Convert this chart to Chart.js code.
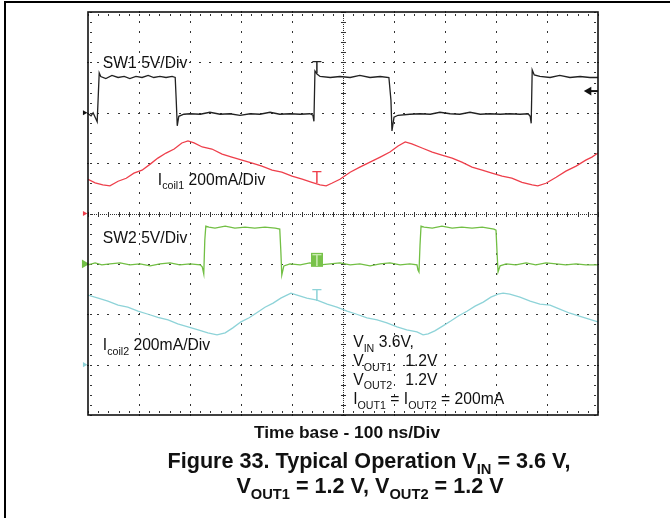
<!DOCTYPE html>
<html>
<head>
<meta charset="utf-8">
<script src="https://cdn.jsdelivr.net/npm/chart.js@4.4.1/dist/chart.umd.min.js"></script>
<style>
  html, body { margin:0; padding:0; background:#fff; }
  #wrap { position:relative; width:670px; height:518px; overflow:hidden; }
  #frame { position:absolute; left:4px; top:1px; width:680px; height:530px; border-top:2px solid #000; border-left:2px solid #000; pointer-events:none; }
  canvas { position:absolute; left:0; top:0; }
</style>
</head>
<body>
<div id="wrap">
  <canvas id="c" width="670" height="518"></canvas>
  <div id="frame"></div>
</div>
<script>
// ---- Data (time in ns, amplitude in screen divisions) ----
const sw1T = [0,6,10,14,18,22,25,35,47,59,71,82,94,106,118,129,141,153,165,171,173,175,178,188,200,220,239,259,278,298,318,337,357,376,396,416,435,441,443,445,449,455,475,494,514,533,553,573,590,594,596,600,608,631,651,671,690,710,729,749,769,788,808,827,847,863,867,869,871,875,886,906,925,945,965,984,1000];
const sw1V = [1.98,1.94,2.0,1.91,1.82,2.79,2.72,2.68,2.74,2.70,2.72,2.68,2.72,2.70,2.74,2.70,2.72,2.70,2.72,2.70,2.25,1.74,1.93,1.97,1.98,1.97,2.01,1.97,1.98,1.95,1.98,1.97,2.01,1.97,1.98,1.97,1.98,1.95,1.83,2.83,2.77,2.72,2.70,2.72,2.70,2.74,2.70,2.72,2.70,2.25,1.64,1.91,1.95,1.97,1.98,1.97,2.01,1.98,1.97,2.01,1.97,1.98,1.97,1.98,1.97,1.98,1.93,1.79,2.85,2.75,2.72,2.70,2.74,2.70,2.72,2.70,2.70];

const coil1T = [0,14,29,43,59,75,90,106,122,137,153,169,184,196,208,224,243,263,282,302,322,341,361,380,400,420,439,455,467,478,494,514,533,553,573,592,608,622,635,655,675,694,714,733,753,773,792,812,831,851,871,882,898,918,937,957,976,988,1000];
const coil1V = [0.68,0.61,0.57,0.55,0.64,0.70,0.80,0.86,0.98,1.10,1.20,1.28,1.40,1.44,1.40,1.32,1.28,1.18,1.12,1.06,1.00,0.94,0.86,0.82,0.74,0.68,0.62,0.57,0.55,0.60,0.68,0.82,0.92,1.02,1.12,1.22,1.34,1.42,1.38,1.30,1.22,1.16,1.10,1.02,0.92,0.86,0.80,0.74,0.70,0.62,0.57,0.55,0.60,0.72,0.84,0.94,1.06,1.12,1.20];

const sw2T = [0,14,27,43,63,82,102,122,141,161,180,200,220,224,227,229,231,237,249,269,288,308,327,347,367,376,378,380,384,396,416,435,455,475,494,514,533,553,573,592,612,631,645,647,649,651,653,659,675,694,714,733,753,773,796,800,802,804,808,820,839,859,878,898,918,937,957,976,1000];
const sw2V = [-1.02,-0.98,-1.02,-1.00,-0.98,-1.02,-1.00,-1.04,-1.00,-0.98,-1.02,-1.00,-1.02,-1.06,-1.20,-0.53,-0.25,-0.27,-0.29,-0.25,-0.29,-0.27,-0.29,-0.27,-0.29,-0.31,-0.72,-1.22,-1.04,-1.00,-1.02,-0.98,-1.02,-1.00,-0.98,-1.02,-1.00,-1.04,-1.00,-0.98,-1.02,-1.00,-1.02,-1.12,-1.16,-0.63,-0.25,-0.27,-0.29,-0.25,-0.29,-0.27,-0.29,-0.27,-0.31,-0.33,-0.76,-1.16,-1.04,-1.00,-1.02,-0.98,-1.02,-0.98,-1.00,-1.02,-1.00,-1.02,-1.02];

const coil2T = [0,20,39,59,78,98,118,137,157,176,196,216,235,253,269,284,300,316,331,347,363,378,390,398,410,429,449,469,488,508,527,547,567,586,606,625,645,657,667,680,696,712,727,743,759,775,790,804,814,827,847,867,886,906,925,945,965,984,1000];
const coil2V = [-1.62,-1.68,-1.74,-1.82,-1.86,-1.94,-2.00,-2.06,-2.11,-2.19,-2.25,-2.31,-2.37,-2.41,-2.37,-2.27,-2.15,-2.07,-1.97,-1.86,-1.78,-1.68,-1.62,-1.58,-1.62,-1.68,-1.72,-1.80,-1.86,-1.94,-2.00,-2.07,-2.11,-2.17,-2.25,-2.31,-2.35,-2.41,-2.39,-2.33,-2.23,-2.13,-2.03,-1.94,-1.84,-1.76,-1.66,-1.60,-1.58,-1.60,-1.66,-1.74,-1.80,-1.82,-1.90,-1.98,-2.04,-2.10,-2.15];

// channel reference levels (divisions) and trigger level
const refLevels = [2.0, 0.0, -1.0, -3.0];
const triggerLevel = [2.43];

// text
const chLabels = [
  [["SW1 5V/Div",0]],
  [["I",0],["coil1",1],[" 200mA/Div",0]],
  [["SW2 5V/Div",0]],
  [["I",0],["coil2",1],[" 200mA/Div",0]]
];
const noteLines = [
  [["V",0],["IN",1],[" 3.6V,",0]],
  [["V",0],["OUT1",1],["   1.2V",0]],
  [["V",0],["OUT2",1],["   1.2V",0]],
  [["I",0],["OUT1",1],[" = I",0],["OUT2",1],[" = 200mA",0]]
];
const xTitle = "Time base - 100 ns/Div";
const figTitle1 = [["Figure 33. Typical Operation V",0],["IN",1],[" = 3.6 V,",0]];
const figTitle2 = [["V",0],["OUT1",1],[" = 1.2 V, V",0],["OUT2",1],[" = 1.2 V",0]];

// ---- helpers ----
const pts = (t, v) => t.map((x, i) => ({x, y: v[i]}));
const FONT = '"Liberation Sans", Arial, Helvetica, sans-serif';
function richWidth(ctx, parts, size, bold) {
  let w = 0;
  for (const [t, sub] of parts) {
    ctx.font = `${bold ? 'bold ' : ''}${sub ? size * 0.68 : size}px ${FONT}`;
    w += ctx.measureText(t).width;
  }
  return w;
}
function richText(ctx, x, y, parts, size, bold) {
  let cx = x;
  for (const [t, sub] of parts) {
    ctx.font = `${bold ? 'bold ' : ''}${sub ? size * 0.68 : size}px ${FONT}`;
    ctx.fillText(t, cx, y + (sub ? size * 0.3 : 0));
    cx += ctx.measureText(t).width;
  }
}

const graticule = {
  id: 'graticule',
  beforeDatasetsDraw(chart) {
    const {ctx, chartArea: a, scales: {x, y}} = chart;
    ctx.save();
    ctx.fillStyle = '#333';
    const xm = [], ym = [];
    for (let i = 0; i <= 50; i++) xm.push(Math.round(x.getPixelForValue(i * 20)));
    for (let j = 0; j <= 40; j++) ym.push(Math.round(y.getPixelForValue(-4 + j * 0.2)));
    const cx = Math.round(x.getPixelForValue(500)), cy = Math.round(y.getPixelForValue(0));
    // major vertical lines
    for (let i = 1; i < 10; i++) {
      if (i === 5) continue;
      const px = Math.round(x.getPixelForValue(i * 100));
      for (const py of ym) ctx.fillRect(px, py - 1, 1, 2);
    }
    // major horizontal lines
    for (let k = -3; k <= 3; k++) {
      if (k === 0) continue;
      const py = Math.round(y.getPixelForValue(k));
      for (const px of xm) ctx.fillRect(px - 1, py, 2, 1);
    }
    // centre cross
    for (let px = a.left; px < a.right; px += 2) ctx.fillRect(px, cy, 1, 1);
    for (let py = a.top; py < a.bottom; py += 2) ctx.fillRect(cx, py, 1, 1);
    for (const px of xm) ctx.fillRect(px, cy - 2, 1, 5);
    for (const py of ym) ctx.fillRect(cx - 2, py, 5, 1);
    // edge ticks
    for (const px of xm) { ctx.fillRect(px, a.top + 2, 1, 2); ctx.fillRect(px, a.bottom - 4, 1, 2); }
    for (const py of ym) { ctx.fillRect(a.left + 2, py, 2, 1); ctx.fillRect(a.right - 4, py, 2, 1); }
    ctx.restore();
  },
  afterDatasetsDraw(chart) {
    const {ctx, chartArea: a, scales: {x, y}} = chart;
    ctx.save();
    // frame
    ctx.strokeStyle = '#111';
    ctx.lineWidth = 1.6;
    ctx.strokeRect(a.left, a.top, a.right - a.left, a.bottom - a.top);
    // trigger "T" marks
    const tx = x.getPixelForValue(449);
    ctx.textAlign = 'center';
    ctx.font = `16px ${FONT}`;
    ctx.fillStyle = '#222'; ctx.fillText('T', tx, y.getPixelForValue(2.78));
    ctx.fillStyle = '#ee3f4b'; ctx.fillText('T', tx, y.getPixelForValue(0.605));
    ctx.fillStyle = '#8ed3d8'; ctx.fillText('T', tx, y.getPixelForValue(-1.74));
    const gy = y.getPixelForValue(-0.92);
    ctx.fillStyle = '#78c24a'; ctx.fillRect(tx - 6, gy - 7, 12, 14);
    ctx.fillStyle = '#c9eab0'; ctx.fillText('T', tx, gy + 6);
    // channel labels
    ctx.textAlign = 'left';
    ctx.fillStyle = '#111';
    const labPos = [[29, 2.89], [137, 0.57], [29, -0.59], [29, -2.71]];
    chLabels.forEach((parts, i) => richText(ctx, x.getPixelForValue(labPos[i][0]), y.getPixelForValue(labPos[i][1]), parts, 15.7, false));
    const noteY = [-2.65, -3.03, -3.40, -3.78];
    noteLines.forEach((parts, i) => richText(ctx, x.getPixelForValue(520), y.getPixelForValue(noteY[i]), parts, 15.7, false));
    // titles
    ctx.fillStyle = '#111';
    ctx.textAlign = 'center';
    ctx.font = `bold 17.4px ${FONT}`;
    ctx.fillText(xTitle, 347, 438);
    ctx.textAlign = 'left';
    let w = richWidth(ctx, figTitle1, 21.6, true);
    richText(ctx, 369 - w / 2, 468, figTitle1, 21.6, true);
    w = richWidth(ctx, figTitle2, 21.6, true);
    richText(ctx, 370 - w / 2, 493, figTitle2, 21.6, true);
    ctx.restore();
  }
};

const line = (label, data, color) => ({
  type: 'line', label, data, borderColor: color, borderWidth: 1.3,
  pointRadius: 0, tension: 0, fill: false
});
const marker = (data, color, rot, r) => ({
  type: 'scatter', data, pointStyle: 'triangle', rotation: rot, pointRadius: r,
  backgroundColor: color, borderColor: color, borderWidth: 0, clip: false
});

new Chart(document.getElementById('c'), {
  data: {
    datasets: [
      line('SW1', pts(sw1T, sw1V), '#222222'),
      line('Icoil1', pts(coil1T, coil1V), '#ee3f4b'),
      line('SW2', pts(sw2T, sw2V), '#72bf44'),
      line('Icoil2', pts(coil2T, coil2V), '#8ed3d8'),
      marker([{x: -7, y: refLevels[0]}], '#111', 90, 3),
      marker([{x: -7, y: refLevels[1]}], '#ee3f4b', 90, 3),
      marker([{x: -7, y: refLevels[2]}], '#72bf44', 90, 5),
      marker([{x: -7, y: refLevels[3]}], '#8ed3d8', 90, 3),
      marker([{x: 982, y: triggerLevel[0]}], '#111', -90, 5),
      {type: 'line', data: [{x: 985, y: triggerLevel[0]}, {x: 1000, y: triggerLevel[0]}], borderColor: '#111', borderWidth: 2, pointRadius: 0}
    ]
  },
  options: {
    responsive: false, animation: false, devicePixelRatio: 1,
    layout: {padding: {left: 88, top: 12, right: 72, bottom: 103}},
    scales: {
      x: {type: 'linear', min: 0, max: 1000, display: false},
      y: {type: 'linear', min: -4, max: 4, display: false}
    },
    plugins: {legend: {display: false}, tooltip: {enabled: false}}
  },
  plugins: [graticule]
});
</script>
</body>
</html>
